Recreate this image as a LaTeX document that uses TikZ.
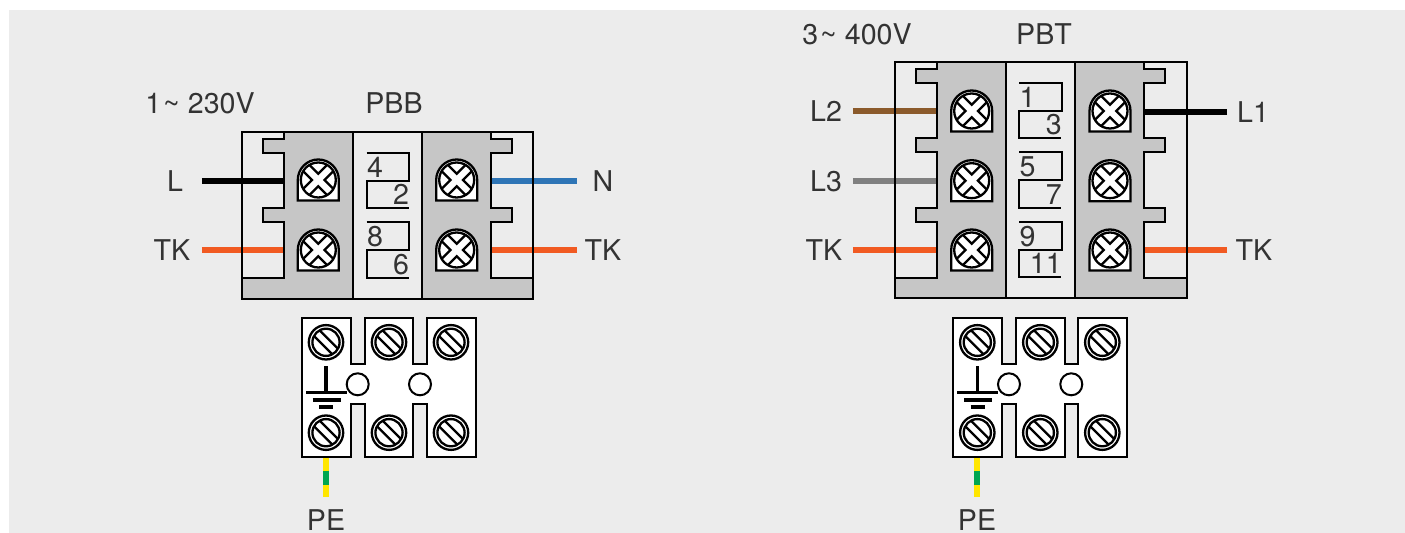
\documentclass[tikz,border=0pt]{standalone}
\usepackage{fontspec}
\setmainfont{TeX Gyre Heros}
\usetikzlibrary{positioning}

\definecolor{panelgray}{HTML}{ECECEC}
\definecolor{bodygray}{HTML}{C6C6C6}
\definecolor{tkorange}{HTML}{F15A22}
\definecolor{nblue}{HTML}{2E75B6}
\definecolor{lbrown}{HTML}{8B5A2B}
\definecolor{lgray}{HTML}{808080}
\definecolor{peyellow}{HTML}{FFE600}
\definecolor{pegreen}{HTML}{00A651}

% clamp screw with cross slot on a dome
\newcommand{\crossscrew}[2]{
    \begin{scope}[shift={(#1,#2)}]
        \draw[screwline, fill=white] (-20.5,20.5) -- (-20.5,0) arc[start angle=180, end angle=360, radius=20.5] -- (20.5,20.5) -- cycle;
        \draw[screwline] (0,0) circle (17.5);
        \foreach \a in {45,135,225,315}
            \draw[screwline, rotate=\a] (16.9,4.4) -- (4.4,4.4) -- (4.4,16.9);
    \end{scope}
}

% round screw with one slot
\newcommand{\slotscrew}[2]{
    \begin{scope}[shift={(#1,#2)}]
        \draw[screwline, fill=white] (0,0) circle (17.2);
        \draw[screwline] (0,0) circle (13.6);
        \draw[screwline, rotate=-45] (-13,4) -- (13,4);
        \draw[screwline, rotate=-45] (-13,-4) -- (13,-4);
    \end{scope}
}

% pair of numbered tags
\newcommand{\tagpair}[4]{
    \begin{scope}[shift={(#1,#2)}]
        \draw[part] (0,0) -- (42.3,0) -- (42.3,27.7) -- (0,27.7) -- (0,55.4) -- (42,55.4);
        \node[digit, anchor=base west] (tag#3) at (0,24.5) {#3};
        \node[digit, anchor=base east] (tag#4) at (42.8,52) {#4};
    \end{scope}
}

% earth block, origin at its upper left corner
\newcommand{\earthblock}[2]{
    \begin{scope}[shift={(#1,#2)}]
        \draw[part, fill=white] (0,0) -- (49.3,0) -- (49.3,46) -- (63,46) -- (63,0) -- (111.6,0) -- (111.6,46) -- (125,46) -- (125,0) -- (174.3,0)
            -- (174.3,139) -- (125,139) -- (125,86) -- (111.6,86) -- (111.6,139) -- (63,139) -- (63,86) -- (49.3,86) -- (49.3,139) -- (0,139) -- cycle;
        \foreach \x in {24.3,87.3,149.3} {
            \slotscrew{\x}{24}
            \slotscrew{\x}{114.4}
        }
        % earth sign
        \draw[earth] (24.3,48) -- (24.3,74.4);
        \draw[earth] (4.3,74.4) -- (45.3,74.4);
        \draw[earth] (11,81.7) -- (39,81.7);
        \draw[earth] (17.6,88.7) -- (31.6,88.7);
        \draw[part, fill=white] (56,66) circle (11);
        \draw[part, fill=white] (118.3,66) circle (11);
    \end{scope}
}

\begin{document}
\begin{tikzpicture}[
            x = 0.5pt, % one unit is one pixel of the reference
            y = -0.5pt,
            line join = miter,
            font = \fontsize{14.3}{16}\selectfont
        ]

        \tikzstyle{part}=[draw = black, line width = 1pt]
        \tikzstyle{screwline}=[draw = black, line width = 1.15pt]
        \tikzstyle{wire}=[line width = 3.2pt]
        \tikzstyle{pewire}=[line width = 2.7pt]
        \tikzstyle{earth}=[draw = black, line width = 1.7pt]
        \tikzstyle{body}=[part, fill = bodygray]
        \tikzstyle{digit}=[inner sep = 0pt, text = black!80]
        \tikzstyle{caption}=[inner sep = 0pt, text = black!80]
        \tikzstyle{lead}=[inner ysep = 0pt, inner xsep = 5.5pt, outer sep = 0pt, text = black!80]

        \useasboundingbox (0,0) rectangle (1405,533);
        \fill[panelgray] (9,10) rectangle (1405,533);

        % PBB labels
        \node[caption] (bbmains) at (200,103) {1\kern1pt\char`~\ 230V};
        \node[caption] (bbname) at (394,103) {PBB};
        \node[lead, inner xsep = 9.5pt] (bbL) at (175,181) {L};
        \node[lead, inner xsep = 5.85pt] (bbTKl) at (172,250) {TK};
        \node[lead, inner xsep = 7.9pt] (bbN) at (603,181) {N};
        \node[lead, inner xsep = 3.9pt] (bbTKr) at (603,250) {TK};

        \coordinate (bbLend) at (283,181);
        \coordinate (bbTKlend) at (283,250);
        \coordinate (bbNend) at (491,181);
        \coordinate (bbTKrend) at (491,250);

        % PBB wires
        \path[wire, draw = black] (bbL) -- (bbLend);
        \path[wire, draw = tkorange] (bbTKl) -- (bbTKlend);
        \path[wire, draw = nblue] (bbN) -- (bbNend);
        \path[wire, draw = tkorange] (bbTKr) -- (bbTKrend);

        % PBB body
        \draw[body] (283.5,132.3) -- (283.5,139.5) -- (262.7,139.5) -- (262.7,153.3) -- (283.5,153.3) -- (283.5,208.3) -- (262.7,208.3) -- (262.7,222.3)
            -- (283.5,222.3) -- (283.5,277.7) -- (241.7,277.7) -- (241.7,299) -- (353,299) -- (353,132.3) -- cycle;
        \draw[body] (491,132.3) -- (491,139.5) -- (512,139.5) -- (512,153.3) -- (491,153.3) -- (491,208.3) -- (512,208.3) -- (512,222.3)
            -- (491,222.3) -- (491,277.7) -- (533,277.7) -- (533,299) -- (422,299) -- (422,132.3) -- cycle;
        \draw[part] (241.7,132.3) rectangle (533,299);
        \foreach \y in {180,250} {
            \crossscrew{318.3}{\y}
            \crossscrew{456.7}{\y}
        }
        \tagpair{366.7}{153}{4}{2}
        \tagpair{366.7}{222.3}{8}{6}

        \earthblock{301.7}{318.3}

        % PBB earth
        \node[caption] (bbPE) at (326,520.5) {PE};
        \coordinate (bbPEtop) at (326,458);
        \coordinate (bbPEa) at (326,470.7);
        \coordinate (bbPEb) at (326,484.7);
        \path[pewire, draw = peyellow, shorten > = 6.2pt] (bbPEtop) -- (bbPE);
        \path[pewire, draw = pegreen] (bbPEa) -- (bbPEb);

        % PBT labels
        \node[caption] (btmains) at (857,34) {3\kern1pt\char`~\ 400V};
        \node[caption] (btname) at (1044,34) {PBT};
        \node[lead] (btLtwo) at (826,111) {L2};
        \node[lead] (btLthree) at (826,181) {L3};
        \node[lead, inner xsep = 5.3pt] (btTKl) at (824,250) {TK};
        \node[lead, inner xsep = 5pt] (btLone) at (1253,112) {L1};
        \node[lead, inner xsep = 4.3pt] (btTKr) at (1254,250) {TK};

        \coordinate (btLtwoend) at (936.5,111);
        \coordinate (btLthreeend) at (936.5,181);
        \coordinate (btTKlend) at (936.5,250);
        \coordinate (btLoneend) at (1144.5,112);
        \coordinate (btTKrend) at (1144.5,250);

        % PBT wires
        \path[wire, draw = lbrown] (btLtwo) -- (btLtwoend);
        \path[wire, draw = lgray] (btLthree) -- (btLthreeend);
        \path[wire, draw = tkorange] (btTKl) -- (btTKlend);
        \path[wire, draw = black] (btLone) -- (btLoneend);
        \path[wire, draw = tkorange] (btTKr) -- (btTKrend);

        % PBT body
        \draw[body] (936.7,62.3) -- (936.7,69.3) -- (915.7,69.3) -- (915.7,83.3) -- (936.7,83.3) -- (936.7,138.3) -- (915.7,138.3) -- (915.7,152.3) -- (936.7,152.3)
            -- (936.7,208.3) -- (915.7,208.3) -- (915.7,222.3) -- (936.7,222.3) -- (936.7,277.7) -- (895,277.7) -- (895,298.3) -- (1005.7,298.3) -- (1005.7,62.3) -- cycle;
        \draw[body] (1144.3,62.3) -- (1144.3,69.3) -- (1165.3,69.3) -- (1165.3,83.3) -- (1144.3,83.3) -- (1144.3,138.3) -- (1165.3,138.3) -- (1165.3,152.3) -- (1144.3,152.3)
            -- (1144.3,208.3) -- (1165.3,208.3) -- (1165.3,222.3) -- (1144.3,222.3) -- (1144.3,277.7) -- (1186.7,277.7) -- (1186.7,298.3) -- (1075,298.3) -- (1075,62.3) -- cycle;
        \draw[part] (895,62.3) rectangle (1186.7,298.3);
        \foreach \y in {111,180.7,250} {
            \crossscrew{971.7}{\y}
            \crossscrew{1110}{\y}
        }
        \tagpair{1019.3}{83}{1}{3}
        \tagpair{1019.3}{152.3}{5}{7}
        \tagpair{1019.3}{222}{9}{11}

        \earthblock{953}{318.3}

        % PBT earth
        \node[caption] (btPE) at (977,520.5) {PE};
        \coordinate (btPEtop) at (977,458);
        \coordinate (btPEa) at (977,470.7);
        \coordinate (btPEb) at (977,484.7);
        \path[pewire, draw = peyellow, shorten > = 6.2pt] (btPEtop) -- (btPE);
        \path[pewire, draw = pegreen] (btPEa) -- (btPEb);

    \end{tikzpicture}
\end{document}
